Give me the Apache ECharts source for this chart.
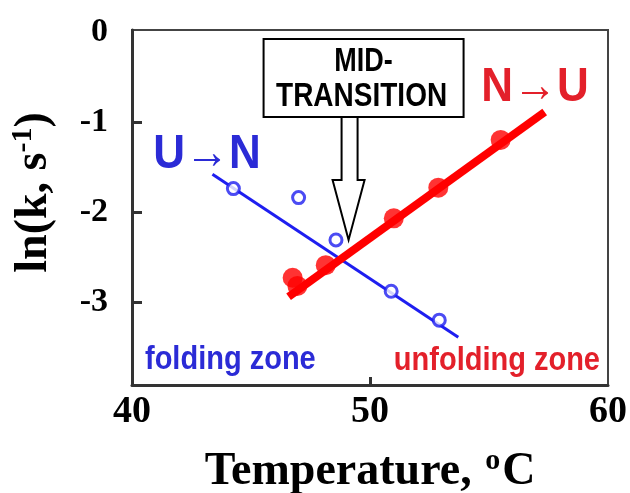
<!DOCTYPE html>
<html>
<head>
<meta charset="utf-8">
<script src="https://cdn.jsdelivr.net/npm/echarts@6/dist/echarts.min.js"></script>
<style>
html,body{margin:0;padding:0;background:#fff;}
#main{width:630px;height:493px;}
</style>
</head>
<body>
<div id="main"></div>
<script>
// ---- data ----
const xTicks = [40, 50, 60];
const yTicks = [0, -1, -2, -3];
// U -> N (folding), open blue circles
const foldTemp = [44.26, 47.0, 48.57, 50.89, 52.91];
const foldLnK  = [-1.74, -1.84, -2.31, -2.88, -3.20];
// fitted line for folding
const foldFitTemp = [43.38, 53.71];
const foldFitLnK  = [-1.58, -3.39];
// N -> U (unfolding), filled red circles
const unfoldTemp = [46.75, 46.95, 48.14, 51.0, 52.87, 55.49];
const unfoldLnK  = [-2.73, -2.82, -2.59, -2.07, -1.73, -1.20];
// fitted line for unfolding
const unfoldFitTemp = [46.58, 57.34];
const unfoldFitLnK  = [-2.94, -0.89];
// mid-transition arrow tip
const midTransition = [49.1, -2.31];

const zip = (a, b) => a.map((v, i) => [v, b[i]]);

const chart = echarts.init(document.getElementById('main'), null, {renderer: 'canvas'});
const serif = '"Liberation Serif", "Times New Roman", serif';
const sans = '"Liberation Sans", Arial, sans-serif';

const option = {
  backgroundColor: '#fff',
  animation: false,
  grid: {left: 132, right: 22, top: 30, bottom: 108, show: true, borderColor: '#444', borderWidth: 2,
    outerBoundsMode: 'none', containLabel: false},
  xAxis: {
    type: 'value', min: 40, max: 60, interval: 10,
    name: 'Temperature, {sup|o}C', nameLocation: 'middle', nameGap: 61,
    nameTextStyle: {fontFamily: serif, fontWeight: 'bold', fontSize: 46, color: '#000',
      rich: {sup: {fontFamily: serif, fontWeight: 'bold', fontSize: 30, color: '#000', verticalAlign: 'top', padding: [0, 2, 22, 2]}}},
    axisLine: {show: true, onZero: false, lineStyle: {color: '#333', width: 3}},
    axisTick: {show: true, inside: true, length: 8, lineStyle: {color: '#333', width: 3}, customValues: [50]},
    axisLabel: {fontFamily: serif, fontWeight: 'bold', fontSize: 38, color: '#000', margin: 8, customValues: xTicks},
    splitLine: {show: false}
  },
  yAxis: {
    type: 'value', min: -3.92, max: 0.02,
    name: 'ln(k, s{sup|-1})', nameLocation: 'middle', nameGap: 72, nameRotate: 90,
    nameTextStyle: {fontFamily: serif, fontWeight: 'bold', fontSize: 46, color: '#000', padding: [0, 0, 0, 30],
      rich: {sup: {fontFamily: serif, fontWeight: 'bold', fontSize: 30, color: '#000', verticalAlign: 'top', padding: [0, 0, 22, 0]}}},
    axisLine: {show: true, onZero: false, lineStyle: {color: '#333', width: 3}},
    axisTick: {show: true, inside: true, length: 10, lineStyle: {color: '#333', width: 3}, customValues: [-1, -2, -3]},
    axisLabel: {fontFamily: serif, fontWeight: 'bold', fontSize: 34, color: '#000', margin: 24, customValues: yTicks},
    splitLine: {show: false}
  },
  series: [
    {name: 'U→N fit', type: 'line', data: zip(foldFitTemp, foldFitLnK), showSymbol: false, symbol: 'none',
      lineStyle: {color: '#1e1ef0', width: 3}, z: 2},
    {name: 'U→N', type: 'scatter', data: zip(foldTemp, foldLnK), symbol: 'circle', symbolSize: 12,
      itemStyle: {color: '#fff', borderColor: '#1e1ef0', borderWidth: 3}, z: 4},
    {name: 'N→U fit', type: 'line', data: zip(unfoldFitTemp, unfoldFitLnK), showSymbol: false, symbol: 'none',
      lineStyle: {color: '#ff0000', width: 8}, z: 3},
    {name: 'N→U', type: 'scatter', data: zip(unfoldTemp, unfoldLnK), symbol: 'circle', symbolSize: 20,
      itemStyle: {color: '#ff0000'}, z: 3}
  ]
};
chart.setOption(option);

// annotations anchored to the mid-transition point
const tip = chart.convertToPixel({gridIndex: 0}, midTransition);
const tx = tip[0], ty = tip[1];
const boxTop = ty - 201, boxBottom = ty - 123;
chart.setOption({
  graphic: [
    {type: 'rect', shape: {x: tx - 85, y: boxTop, width: 200, height: 78},
      style: {fill: '#fff', stroke: '#000', lineWidth: 2}, z: 10},
    {type: 'text', z: 11, x: tx + 15, y: boxTop + 23, scaleY: 1.2, style: {text: 'MID-', x: 0, y: 0, textAlign: 'center', textVerticalAlign: 'middle',
      font: 'bold 27px ' + sans, fill: '#000'}},
    {type: 'text', z: 11, x: tx + 13, y: boxTop + 58, scaleY: 1.2, style: {text: 'TRANSITION', x: 0, y: 0, textAlign: 'center', textVerticalAlign: 'middle',
      font: 'bold 28px ' + sans, fill: '#000'}},
    {type: 'polygon', z: 10, shape: {points: [
      [tx - 7, boxBottom], [tx + 9, boxBottom], [tx + 9, ty - 60], [tx + 16, ty - 60],
      [tx, ty], [tx - 16, ty - 60], [tx - 7, ty - 60]]},
      style: {fill: '#fff', stroke: '#000', lineWidth: 2}},
    {type: 'text', z: 11, x: 207, y: 155, scaleY: 1.1, style: {text: 'U→N', x: 0, y: 0, textAlign: 'center', textVerticalAlign: 'middle',
      font: 'bold 44px ' + sans, fill: '#2b2bd6'}},
    {type: 'text', z: 11, x: 535, y: 88, scaleY: 1.1, style: {text: 'N→U', x: 0, y: 0, textAlign: 'center', textVerticalAlign: 'middle',
      font: 'bold 44px ' + sans, fill: '#e3202a'}},
    {type: 'text', z: 11, x: 145, y: 360, scaleY: 1.15, style: {text: 'folding zone', x: 0, y: 0, textAlign: 'left', textVerticalAlign: 'middle',
      font: 'bold 29px ' + sans, fill: '#2b2bd6'}},
    {type: 'text', z: 11, x: 600, y: 361, scaleY: 1.15, style: {text: 'unfolding zone', x: 0, y: 0, textAlign: 'right', textVerticalAlign: 'middle',
      font: 'bold 29px ' + sans, fill: '#e3202a'}}
  ]
});
</script>
</body>
</html>
